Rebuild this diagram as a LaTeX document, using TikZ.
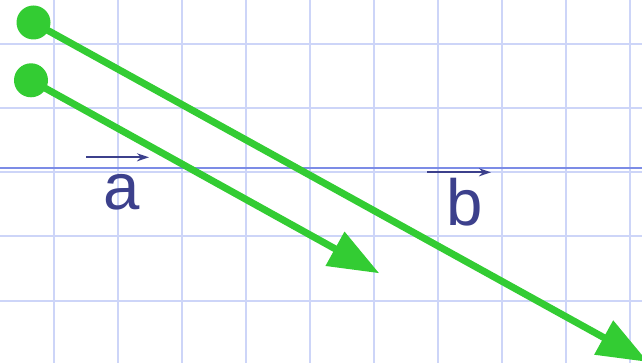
\documentclass[tikz,border=0pt]{standalone}
\usepackage{fontspec}
\setmainfont{Liberation Sans}
\usetikzlibrary{arrows.meta}
\definecolor{gridblue}{RGB}{205,213,248}
\definecolor{axisblue}{RGB}{124,140,230}
\definecolor{vecgreen}{RGB}{51,204,51}
\definecolor{labelblue}{RGB}{60,64,140}

\begin{document}
\begin{tikzpicture}[
  x=0.75pt, y=-0.75pt,
  gridline/.style={gridblue,line width=1.5pt},
  axis/.style={axisblue,line width=1.5pt},
  dot/.style={circle,fill=vecgreen,inner sep=0pt,minimum size=25.5pt},
  vec/.style={vecgreen,line width=5.25pt,-{Triangle[length=38pt,width=28pt]}},
  veclabel/.style={text=labelblue,font=\fontsize{49}{49}\selectfont,inner sep=0pt,anchor=base},
  overvec/.style={labelblue,line width=1.5pt,-{Stealth[length=9pt,width=6pt]}}
]
\clip (0,0) rectangle (642,363);

% ===== GRID =====
\foreach \i in {0,...,9}
  \draw[gridline] (53.5+64*\i,0) -- (53.5+64*\i,363);
\foreach \j in {0,...,4}
  \draw[gridline] (0,44.5+64*\j) -- (642,44.5+64*\j);
\draw[axis] (0,168) -- (642,168);

% ===== LABELS =====
\node[veclabel] (a_label) at (122,210) {a};
\coordinate (a_bar_l) at (86,157.3);
\coordinate (a_bar_r) at (149,157.3);
\draw[overvec] (a_bar_l) -- (a_bar_r);

\node[veclabel] (b_label) at (464.5,225.5) {b};
\coordinate (b_bar_l) at (427,172.3);
\coordinate (b_bar_r) at (491,172.3);
\draw[overvec] (b_bar_l) -- (b_bar_r);

% ===== VECTOR b (long) =====
\node[dot] (b_tail) at (33.5,22.5) {};
\coordinate (b_head) at (648,362);
\draw[vec] (b_tail.center) -- (b_head);

% ===== VECTOR a (short) =====
\node[dot] (a_tail) at (31,80.3) {};
\coordinate (a_head) at (379.3,273.3);
\draw[vec] (a_tail.center) -- (a_head);

\end{tikzpicture}
\end{document}
